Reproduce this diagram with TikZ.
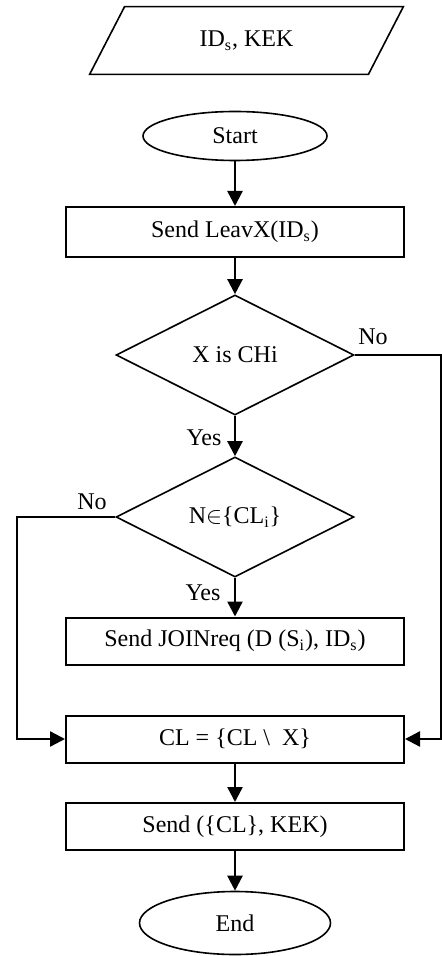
\documentclass[tikz,border=0pt]{standalone}
\usepackage{fontspec}
\setmainfont{Liberation Serif}
\usetikzlibrary{arrows.meta,positioning,shapes.geometric}

\begin{document}
\begin{tikzpicture}[
  x=0.5pt, y=-0.5pt,
  font=\fontsize{12pt}{14pt}\selectfont,
  proc/.style={draw, line width=1pt, minimum width=169pt,
               minimum height=23.5pt, inner sep=0pt},
  term/.style={draw, ellipse, line width=0.8pt, inner sep=0pt},
  cond/.style={draw, diamond, aspect=2, line width=0.8pt, minimum width=119pt,
               minimum height=60pt, inner sep=0pt},
  io/.style={minimum width=156.5pt, minimum height=33.5pt, inner sep=0pt},
  slant/.style={line width=0.8pt},
  flow/.style={line width=1.2pt, -{Triangle[length=7.5pt,width=7.5pt]}}]
  \useasboundingbox (0,0) rectangle (442,956);
  \node[io] (I) at (246.5,40.5) {ID\textsubscript{s}, KEK};
  \draw[slant] ([xshift=17.5pt]I.north west) -- (I.north east)
    -- ([xshift=-17.5pt]I.south east) -- (I.south west) -- cycle;
  \node[term, minimum width=92pt, minimum height=24.5pt] (S) at (235,136) {Start};
  \node[proc, minimum height=25pt] (L) at (235,232) {Send LeavX(ID\textsubscript{s})};
  \node[cond] (X) at (235,355) {X is CHi};
  \node[cond] (N) at (235,517) {N$\in$\{CL\textsubscript{i}\}};
  \node[proc] (J) at (235,641) {Send JOINreq (D (S\textsubscript{i}), ID\textsubscript{s})};
  \node[proc] (C) at (235,739) {CL = \{CL \textbackslash\ \ X\}};
  \node[proc] (K) at (235,826.5) {Send (\{CL\}, KEK)};
  \node[term, minimum width=95.5pt, minimum height=31.5pt] (E) at (235,923) {End};
  \coordinate (lft) at (17,517);
  \coordinate (rgt) at (441,355);
  \draw[flow] (S) -- (L);
  \draw[flow] (L) -- (X);
  \draw[flow] (X) -- (N);
  \draw[flow] (N) -- (J);
  \draw[flow] (C) -- (K);
  \draw[flow] (K) -- (E);
  \draw[flow] (N.west) -- (lft) |- (C.west);
  \draw[flow] (X.east) -- (rgt) |- (C.east);
  \node (no1) at (373,337) {No};
  \node (yes1) at (204,438) {Yes};
  \node (no2) at (92,502) {No};
  \node (yes2) at (203,593) {Yes};
\end{tikzpicture}
\end{document}
